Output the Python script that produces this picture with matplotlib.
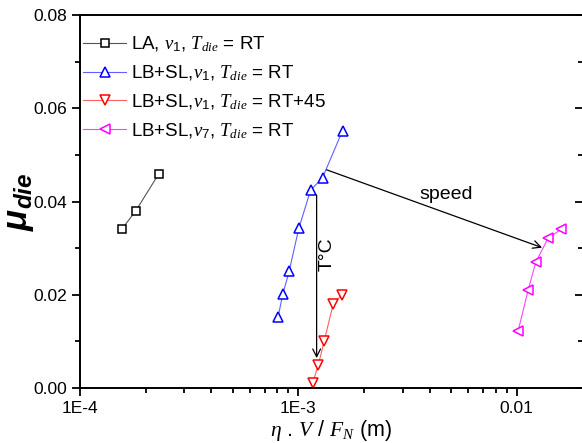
import matplotlib
matplotlib.use("Agg")
import matplotlib.pyplot as plt
from matplotlib.ticker import FixedLocator, MultipleLocator, LogLocator, NullFormatter

plt.rcParams['font.family'] = ['Liberation Sans', 'DejaVu Sans']
plt.rcParams['mathtext.fontset'] = 'custom'
plt.rcParams['mathtext.rm'] = 'Liberation Sans'
plt.rcParams['mathtext.it'] = 'Liberation Serif:italic'
plt.rcParams['mathtext.bf'] = 'Liberation Sans:bold:italic'

# data
la_x = [1.55e-4, 1.80e-4, 2.30e-4]
la_y = [0.034, 0.038, 0.046]

lbsl_x = [8.08e-4, 8.49e-4, 9.07e-4, 1.005e-3, 1.137e-3, 1.29e-3, 1.593e-3]
lbsl_y = [0.0153, 0.0202, 0.0250, 0.0343, 0.0424, 0.0451, 0.0552]

hot_x = [1.161e-3, 1.233e-3, 1.313e-3, 1.443e-3, 1.576e-3]
hot_y = [0.0010, 0.0049, 0.0101, 0.0180, 0.0199]

v7_x = [1.014e-2, 1.127e-2, 1.222e-2, 1.391e-2, 1.590e-2]
v7_y = [0.0122, 0.0210, 0.0270, 0.0321, 0.0340]

labels = [r'LA, $v_{\mathit{1}}$, $T_{die}$ = RT',
          r'LB+SL,$v_{\mathit{1}}$, $T_{die}$ = RT',
          r'LB+SL,$v_{\mathit{1}}$, $T_{die}$ = RT+45',
          r'LB+SL,$v_{\mathit{7}}$, $T_{die}$ = RT']

fig = plt.figure(figsize=(5.82, 4.43), dpi=100)
ax = fig.add_axes([80/582, 55/443, 503/582, 373/443])

ax.plot(la_x, la_y, color='#555555', lw=0.8, marker='s', ms=5.5, mfc='white',
        mec='black', mew=1.1, label=labels[0])
ax.plot(lbsl_x, lbsl_y, color='#6060ff', lw=0.8, marker='^', ms=7, mfc='white',
        mec='blue', mew=1.1, label=labels[1])
ax.plot(hot_x, hot_y, color='#ff6060', lw=0.8, marker='v', ms=7, mfc='white',
        mec='red', mew=1.1, label=labels[2])
ax.plot(v7_x, v7_y, color='#ff40ff', lw=0.8, marker='<', ms=7, mfc='white',
        mec='magenta', mew=1.1, label=labels[3])

# annotations
ax.annotate('', xy=(1.212e-3, 0.0064), xytext=(1.212e-3, 0.0414),
            arrowprops=dict(arrowstyle='->', color='black', lw=0.9,
                            shrinkA=0, shrinkB=0, mutation_scale=14))
ax.annotate('', xy=(1.306e-2, 0.0301), xytext=(1.346e-3, 0.0468),
            arrowprops=dict(arrowstyle='->', color='black', lw=0.9,
                            shrinkA=0, shrinkB=0, mutation_scale=14))
ax.text(1.36e-3, 0.0287, 'T°C', rotation=90, fontsize=14, ha='center', va='center')
ax.text(4.73e-3, 0.0414, 'speed', fontsize=14, ha='center', va='center')

ax.set_xscale('log')
ax.set_xlim(1e-4, 0.0201)
ax.set_ylim(0, 0.08)

ax.xaxis.set_major_locator(FixedLocator([1e-4, 1e-3, 1e-2]))
ax.set_xticklabels(['1E-4', '1E-3', '0.01'])
ax.xaxis.set_minor_locator(LogLocator(base=10, subs=range(2, 10)))
ax.xaxis.set_minor_formatter(NullFormatter())
ax.yaxis.set_major_locator(MultipleLocator(0.02))
ax.yaxis.set_minor_locator(MultipleLocator(0.01))
ax.yaxis.set_major_formatter(plt.FuncFormatter(lambda v, p: f'{v:.2f}'))

ax.tick_params(which='both', direction='out', labelsize=12.5, width=1.3)
ax.tick_params(which='major', length=6)
ax.tick_params(which='minor', length=3.5)
for s in ax.spines.values():
    s.set_linewidth(1.4)

sec = ax.secondary_yaxis('right')
sec.yaxis.set_major_locator(MultipleLocator(0.02))
sec.yaxis.set_minor_locator(MultipleLocator(0.01))
sec.tick_params(which='both', direction='in', labelright=False, width=1.3)
sec.tick_params(which='major', length=6)
sec.tick_params(which='minor', length=3.5)

ax.set_xlabel(r'$\eta$ . $V$ / $F_{N}$ (m)', fontsize=15.5, labelpad=1)
ax.set_ylabel(r'$\mathbf{\mu_{die}}$', fontsize=25, labelpad=-2)

ax.legend(loc='upper left', bbox_to_anchor=(-0.005, 0.962), frameon=False,
          fontsize=13.5, handlelength=2.3, handletextpad=0.25,
          labelspacing=0.5, borderaxespad=0, borderpad=0.3)

fig.savefig('out.png', dpi=100)
